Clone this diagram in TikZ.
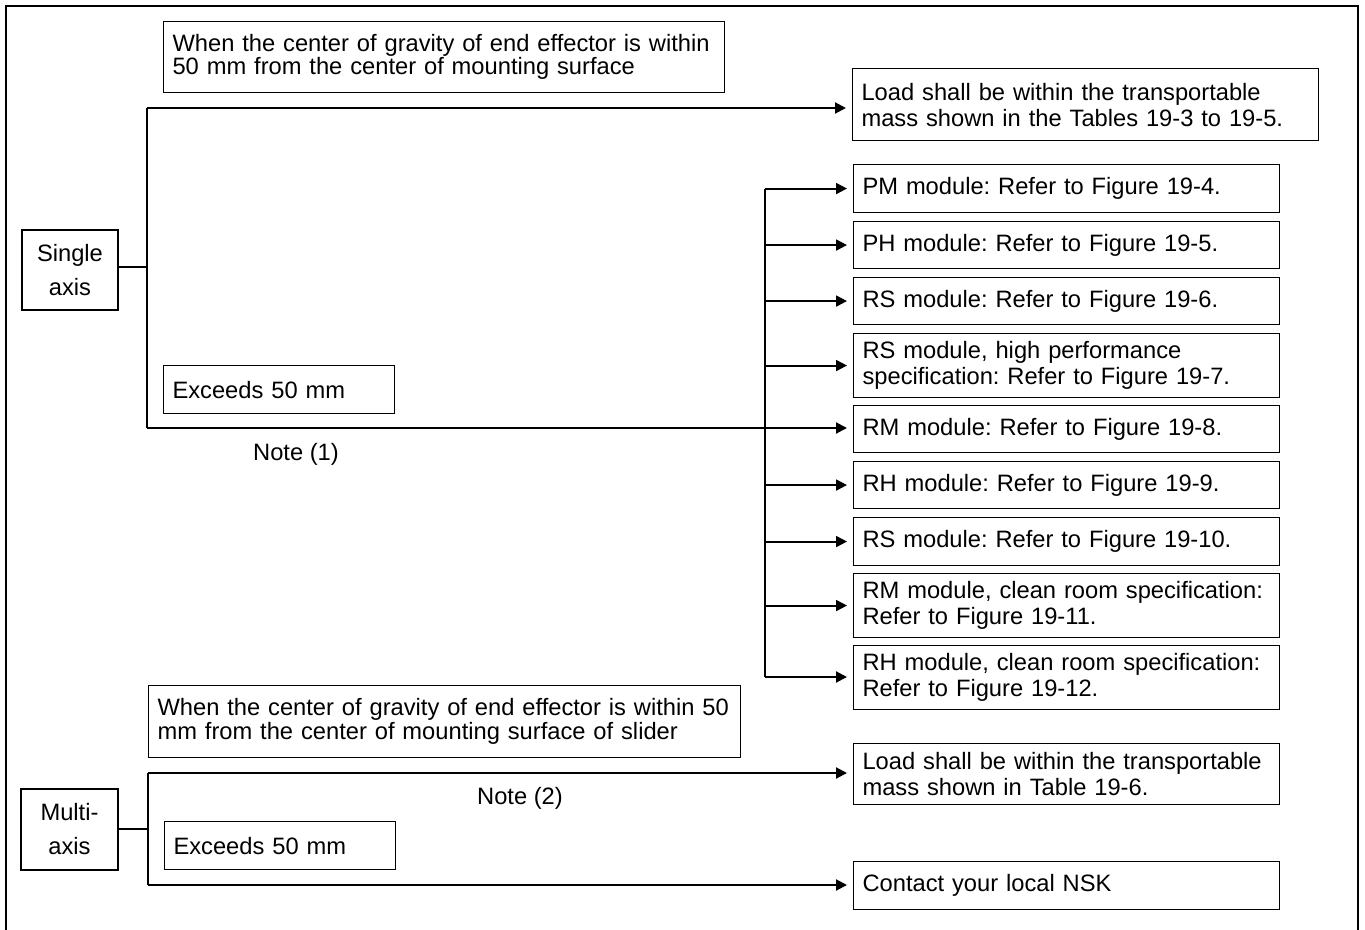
\documentclass[tikz,border=0pt]{standalone}
\usepackage{fontspec}
\setmainfont{Liberation Sans}
\usetikzlibrary{arrows.meta,calc}
\newcommand\fsA{\fontsize{23.7}{23.5}\selectfont\frenchspacing}
\newcommand\fsB{\fontsize{23.7}{26}\selectfont\frenchspacing}
\newcommand\fsC{\fontsize{23.7}{34}\selectfont\frenchspacing}
\begin{document}
\begin{tikzpicture}[x=1pt,y=-1pt,
  box/.style={draw, line width=1.1pt, inner xsep=9pt, inner ysep=0pt, anchor=north west, align=left, font=\fsB},
  axisbox/.style={draw, line width=2pt, inner sep=0pt, anchor=north west, align=center, font=\fsC},
  conn/.style={line width=2pt},
  arr/.style={line width=2pt, -{Triangle[length=11pt,width=11pt]}, shorten >=6pt},
  note/.style={font=\fsA, inner sep=0pt}
]
\useasboundingbox (0,0) rectangle (1365,929);
% outer frame
\draw[line width=2pt] (6,932) -- (6,6) -- (1358,6) -- (1358,932);

% ---------- single axis ----------
\node[axisbox, minimum width=96pt, minimum height=80pt] (single) at (21,229) {Single\\axis};
\node[box, font=\fsA, text width=543pt, minimum height=71pt] (top1) at (163,21)
  {When the center of gravity of end effector is within\\50 mm from the center of mounting surface};
\node[box, text width=448pt, minimum height=72pt] (load1) at (852,68)
  {Load shall be within the transportable\\mass shown in the Tables 19-3 to 19-5.};
\node[box, text width=213pt, minimum height=48pt] (ex1) at (163,365) {Exceeds 50 mm};
\node[note] (note1) at (296,454) {Note (1)};

\node[box, text width=408pt, minimum height=48pt] (pm) at (853,164) {PM module: Refer to Figure 19-4.};
\node[box, text width=408pt, minimum height=47pt] (ph) at (853,221) {PH module: Refer to Figure 19-5.};
\node[box, text width=408pt, minimum height=47pt] (rs) at (853,277) {RS module: Refer to Figure 19-6.};
\node[box, text width=408pt, minimum height=64pt] (rshp) at (853,333) {RS module, high performance\\specification: Refer to Figure 19-7.};
\node[box, text width=408pt, minimum height=47pt] (rm) at (853,405) {RM module: Refer to Figure 19-8.};
\node[box, text width=408pt, minimum height=47pt] (rh) at (853,461) {RH module: Refer to Figure 19-9.};
\node[box, text width=408pt, minimum height=48pt] (rs2) at (853,517) {RS module: Refer to Figure 19-10.};
\node[box, text width=408pt, minimum height=64pt] (rmc) at (853,573) {RM module, clean room specification:\\Refer to Figure 19-11.};
\node[box, text width=408pt, minimum height=64pt] (rhc) at (853,645) {RH module, clean room specification:\\Refer to Figure 19-12.};

\coordinate (s0) at (147,267);
\coordinate (s1) at (147,108);
\coordinate (s2) at (147,428);
\coordinate (vt) at (765,189);
\coordinate (vb) at (765,677);

\draw[conn] (single.east |- s0) -- (s0);
\draw[conn] (s1) -- (s2);
\draw[arr] (s1) -- (s1 -| load1.west);
\draw[arr] (s2) -- (s2 -| rm.west);
\draw[conn] (vt) -- (vb);
\foreach \n in {pm,ph,rs,rshp,rh,rs2,rmc} {
  \draw[arr] (vt |- \n.west) -- (\n.west);
}
\draw[arr] (vb) -- (vb -| rhc.west);

% ---------- multi axis ----------
\node[axisbox, minimum width=97pt, minimum height=81pt] (multi) at (20,788) {Multi-\\axis};
\node[box, font=\fsA, text width=574pt, minimum height=72pt] (top2) at (148,685)
  {When the center of gravity of end effector is within 50\\mm from the center of mounting surface of slider};
\node[box, text width=408pt, minimum height=61pt] (load2) at (853,743)
  {Load shall be within the transportable\\mass shown in Table 19-6.};
\node[box, text width=213pt, minimum height=48pt] (ex2) at (164,821) {Exceeds 50 mm};
\node[note] (note2) at (520,798) {Note (2)};
\node[box, text width=408pt, minimum height=48pt] (contact) at (853,861) {Contact your local NSK};

\coordinate (m0) at (148,829);
\coordinate (m1) at (148,773);
\coordinate (m2) at (148,885);
\draw[conn] (multi.east |- m0) -- (m0);
\draw[conn] (m1) -- (m2);
\draw[arr] (m1) -- (m1 -| load2.west);
\draw[arr] (m2) -- (m2 -| contact.west);
\end{tikzpicture}
\end{document}
